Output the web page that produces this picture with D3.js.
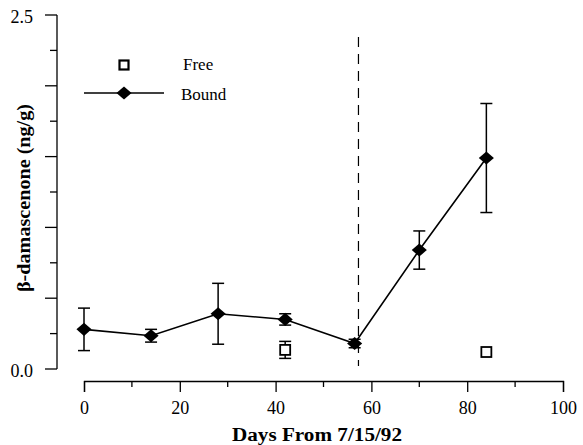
<!DOCTYPE html>
<html>
<head>
<meta charset="utf-8">
<script src="https://cdn.jsdelivr.net/npm/d3@7"></script>
<style>
  body { margin: 0; background: #fff; }
  svg text { font-family: "Liberation Serif", "DejaVu Serif", serif; fill: #000; }
</style>
</head>
<body>
<svg id="chart" width="583" height="445"></svg>
<script>
// bound series (mean +/- error)
const boundDays = [0, 14, 28, 42, 56.5, 70, 84];
const boundValues = [0.28, 0.235, 0.39, 0.35, 0.18, 0.84, 1.49];
const boundErrors = [0.15, 0.045, 0.215, 0.04, 0.03, 0.135, 0.385];

// free series
const freeDays = [42, 84];
const freeValues = [0.135, 0.12];
const freeErrors = [0.06, 0];

const xTicks = [0, 20, 40, 60, 80, 100];
const yLabels = [0.0, 2.5];
const harvestDay = 57.3;

const svg = d3.select("#chart");

const x = d3.scaleLinear().domain([0, 100]).range([84, 563]);
const y = d3.scaleLinear().domain([0, 2.5]).range([369, 15]);

// y axis: major ticks every 0.5, minor every 0.25, labels only at ends
const yAxis = svg.append("g").attr("transform", "translate(57,0)");
yAxis.append("line")
    .attr("y1", y(2.5)).attr("y2", y(0))
    .attr("stroke", "#000").attr("stroke-width", 1.3);
d3.range(0, 2.51, 0.25).forEach(v => {
    const major = Math.abs(v / 0.5 - Math.round(v / 0.5)) < 1e-6;
    yAxis.append("line")
        .attr("x1", major ? -12 : -7).attr("x2", 0)
        .attr("y1", y(v)).attr("y2", y(v))
        .attr("stroke", "#000").attr("stroke-width", 1.3);
});
yAxis.selectAll(".ylab")
    .data(yLabels)
    .join("text")
    .attr("x", -24)
    .attr("y", d => y(d) + 8)
    .attr("text-anchor", "end")
    .attr("font-size", 18)
    .text(d => d.toFixed(1));

// x axis, offset below the plot
const xAxis = d3.axisBottom(x)
    .tickValues(xTicks)
    .tickSize(11)
    .tickPadding(9)
    .tickFormat(d => d);
const xg = svg.append("g")
    .attr("transform", "translate(0,381)")
    .call(xAxis);
xg.select(".domain").attr("stroke-width", 1.3);
xg.selectAll(".tick line").attr("stroke-width", 1.3);
xg.selectAll("text").attr("font-size", 18).attr("font-family", "Liberation Serif, serif");
xg.selectAll(".minor")
    .data(d3.range(10, 100, 20))
    .join("line")
    .attr("x1", d => x(d)).attr("x2", d => x(d))
    .attr("y1", 0).attr("y2", 6)
    .attr("stroke", "#000").attr("stroke-width", 1.3);

// dashed vertical line
svg.append("line")
    .attr("x1", x(harvestDay)).attr("x2", x(harvestDay))
    .attr("y1", 37).attr("y2", 366)
    .attr("stroke", "#000").attr("stroke-width", 1.2)
    .attr("stroke-dasharray", "10,7");

const bound = boundDays.map((d, i) => ({ day: d, v: boundValues[i], e: boundErrors[i] }));
const free = freeDays.map((d, i) => ({ day: d, v: freeValues[i], e: freeErrors[i] }));

function errorBars(data) {
    const g = svg.append("g").attr("stroke", "#000").attr("stroke-width", 1.5);
    data.filter(d => d.e > 0).forEach(d => {
        const cx = x(d.day);
        g.append("line").attr("x1", cx).attr("x2", cx)
            .attr("y1", y(d.v + d.e)).attr("y2", y(d.v - d.e));
        [d.v + d.e, d.v - d.e].forEach(v => {
            g.append("line").attr("x1", cx - 6).attr("x2", cx + 6)
                .attr("y1", y(v)).attr("y2", y(v));
        });
    });
}

errorBars(bound);
errorBars(free);

// bound line
svg.append("path")
    .datum(bound)
    .attr("fill", "none")
    .attr("stroke", "#000")
    .attr("stroke-width", 1.6)
    .attr("d", d3.line().x(d => x(d.day)).y(d => y(d.v)));

const diamond = d3.symbol().type(d3.symbolDiamond2).size(110);
svg.selectAll(".bound")
    .data(bound)
    .join("path")
    .attr("transform", d => `translate(${x(d.day)},${y(d.v)}) scale(1.15,1)`)
    .attr("d", diamond)
    .attr("fill", "#000");

svg.selectAll(".free")
    .data(free)
    .join("rect")
    .attr("x", d => x(d.day) - 5)
    .attr("y", d => y(d.v) - 5)
    .attr("width", 10).attr("height", 10)
    .attr("fill", "#fff")
    .attr("stroke", "#000")
    .attr("stroke-width", 1.8);

// legend
const legend = svg.append("g");
legend.append("rect")
    .attr("x", 119.5).attr("y", 60.5).attr("width", 9).attr("height", 9)
    .attr("fill", "#fff").attr("stroke", "#000").attr("stroke-width", 2.2);
legend.append("text").attr("x", 183).attr("y", 70).attr("font-size", 17).text("Free");
legend.append("line")
    .attr("x1", 84).attr("x2", 164).attr("y1", 93).attr("y2", 93)
    .attr("stroke", "#000").attr("stroke-width", 1.6);
legend.append("path")
    .attr("transform", "translate(124,93) scale(1.15,1)")
    .attr("d", diamond).attr("fill", "#000");
legend.append("text").attr("x", 181).attr("y", 100).attr("font-size", 17).text("Bound");

// axis titles
svg.append("text")
    .attr("x", 317).attr("y", 441)
    .attr("text-anchor", "middle")
    .attr("font-size", 18).attr("font-weight", "bold")
    .attr("textLength", 170).attr("lengthAdjust", "spacingAndGlyphs")
    .text("Days From 7/15/92");
svg.append("text")
    .attr("transform", "translate(30,198) rotate(-90)")
    .attr("text-anchor", "middle")
    .attr("font-size", 18).attr("font-weight", "bold")
    .attr("textLength", 188).attr("lengthAdjust", "spacingAndGlyphs")
    .text("β-damascenone (ng/g)");
</script>
</body>
</html>
